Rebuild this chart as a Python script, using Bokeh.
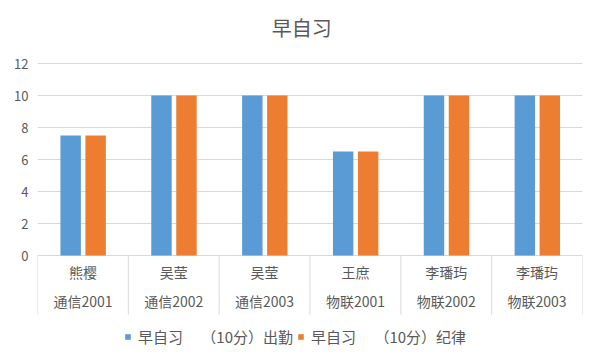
from bokeh.plotting import figure
from bokeh.models import FactorRange, Range1d, FixedTicker, ColumnDataSource, Legend, LegendItem
from bokeh.transform import dodge
from bokeh.core.properties import value
from bokeh.embed import file_html
from bokeh.resources import INLINE

title = "早自习"
names = ["熊樱", "吴莹", "吴莹", "王庶", "李璠玙", "李璠玙"]
classes = ["通信2001", "通信2002", "通信2003", "物联2001", "物联2002", "物联2003"]
attendance = [7.5, 10, 10, 6.5, 10, 10]
discipline = [7.5, 10, 10, 6.5, 10, 10]
series_names = ["早自习\u3000 （10分）出勤", "早自习\u3000 （10分）纪律"]
y_ticks = [0, 2, 4, 6, 8, 10, 12]

FONT = "Noto Sans CJK SC"
TXT = "#595959"
GRID = "#d9d9d9"
BLUE = "#5B9BD5"
ORANGE = "#ED7D31"

src = ColumnDataSource(dict(cls=classes, name=names, a=attendance, d=discipline,
                            y1=[-1.0] * 6, y2=[-2.85] * 6, y0=[0] * 6, yb=[-3.7] * 6))

p = figure(width=586, height=350, output_backend="svg", toolbar_location=None,
           x_range=FactorRange(*classes, range_padding=0),
           y_range=Range1d(-5.9375, 15.9375),
           min_border_left=37, min_border_right=4, min_border_top=0, min_border_bottom=0)
p.x_range.range_padding = 0
p.outline_line_color = None
p.background_fill_color = "white"

p.xaxis.visible = False
p.xgrid.visible = False
p.yaxis.ticker = FixedTicker(ticks=y_ticks)
p.ygrid.ticker = FixedTicker(ticks=y_ticks)
p.ygrid.grid_line_color = GRID
p.yaxis.axis_line_color = None
p.yaxis.major_tick_line_color = None
p.yaxis.minor_tick_line_color = None
p.yaxis.major_label_text_font = FONT
p.yaxis.major_label_text_font_size = "13px"
p.yaxis.major_label_text_color = TXT
p.yaxis.major_label_standoff = 3

# chart title (centred over the category span)
tsrc = ColumnDataSource(dict(cls=[classes[2]], y=[14.25], t=[title]))
p.text(x=dodge("cls", 0.5 - 0.09, range=p.x_range), y="y", text="t", source=tsrc,
       text_font=value(FONT), text_font_size="20px", text_color=TXT,
       text_align="center", text_baseline="middle")

r1 = p.vbar(x=dodge("cls", -0.135, range=p.x_range), top="a", width=0.225, source=src,
            fill_color=BLUE, line_color=None)
r2 = p.vbar(x=dodge("cls", 0.14, range=p.x_range), top="d", width=0.225, source=src,
            fill_color=ORANGE, line_color=None)

# category separators
p.segment(x0=dodge("cls", -0.5, range=p.x_range), y0="y0",
          x1=dodge("cls", -0.5, range=p.x_range), y1="yb", source=src, line_color=GRID, line_width=1)
last = ColumnDataSource(dict(cls=[classes[-1]], y0=[0], yb=[-3.7]))
p.segment(x0=dodge("cls", 0.5, range=p.x_range), y0="y0",
          x1=dodge("cls", 0.5, range=p.x_range), y1="yb", source=last, line_color=GRID, line_width=1)

p.text(x="cls", y="y1", text="name", source=src, text_font=value(FONT), text_font_size="14px",
       text_color=TXT, text_align="center", text_baseline="middle")
p.text(x="cls", y="y2", text="cls", source=src, text_font=value(FONT), text_font_size="14px",
       text_color=TXT, text_align="center", text_baseline="middle")

legend = Legend(items=[LegendItem(label=series_names[0], renderers=[r1]),
                       LegendItem(label=series_names[1], renderers=[r2])],
                orientation="horizontal", location=(87, 3))
legend.label_text_font = FONT
legend.label_text_font_size = "15px"
legend.label_text_color = TXT
legend.glyph_width = 7
legend.glyph_height = 7
legend.label_standoff = 7
legend.spacing = 4
legend.padding = 2
legend.margin = 0
legend.border_line_color = None
legend.background_fill_alpha = 0
p.add_layout(legend)

open("out.html", "w").write(file_html(p, INLINE))
